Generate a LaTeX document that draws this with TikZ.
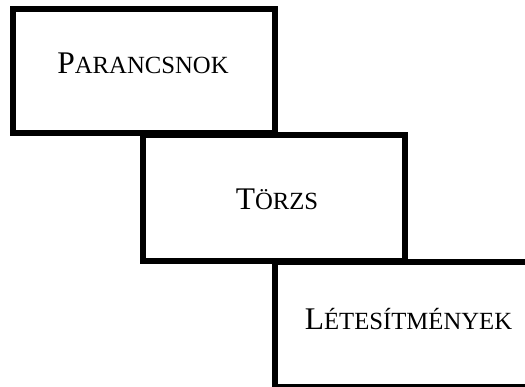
\documentclass[tikz,border=0pt]{standalone}
\usepackage{fontspec}
\setmainfont{Liberation Serif}
\newcommand\orgcapital[1]{{\fontsize{31.5}{36}\selectfont #1}}
\newcommand\orgsmall[1]{{\fontsize{24.7}{28}\selectfont #1}}
\begin{document}
\begin{tikzpicture}[x=1pt,y=-1pt,
  orgbox/.style={draw=black, line width=6pt, fill=none, rectangle, minimum width=262pt, inner sep=0pt},
  orglabel/.style={anchor=base, inner sep=0pt, text=black}]
\useasboundingbox (0,0) rectangle (525,387);
\clip (0,0) rectangle (525,387);
\node[orgbox, minimum height=124pt] (b1) at (144,71.5) {};
\node[orgbox, minimum height=125.5pt] (b2) at (274,198.25) {};
\node[orgbox, minimum height=125pt] (b3) at (405.5,324.5) {};
\node[orglabel] (t1) at (143,73.3) {\orgcapital{P}\orgsmall{ARANCSNOK}};
\node[orglabel] (t2) at (277,210) {\orgcapital{T}\orgsmall{ÖRZS}};
\node[orglabel] (t3) at (408.5,330) {\orgcapital{L}\orgsmall{ÉTESÍTMÉNYEK}};
\end{tikzpicture}
\end{document}
